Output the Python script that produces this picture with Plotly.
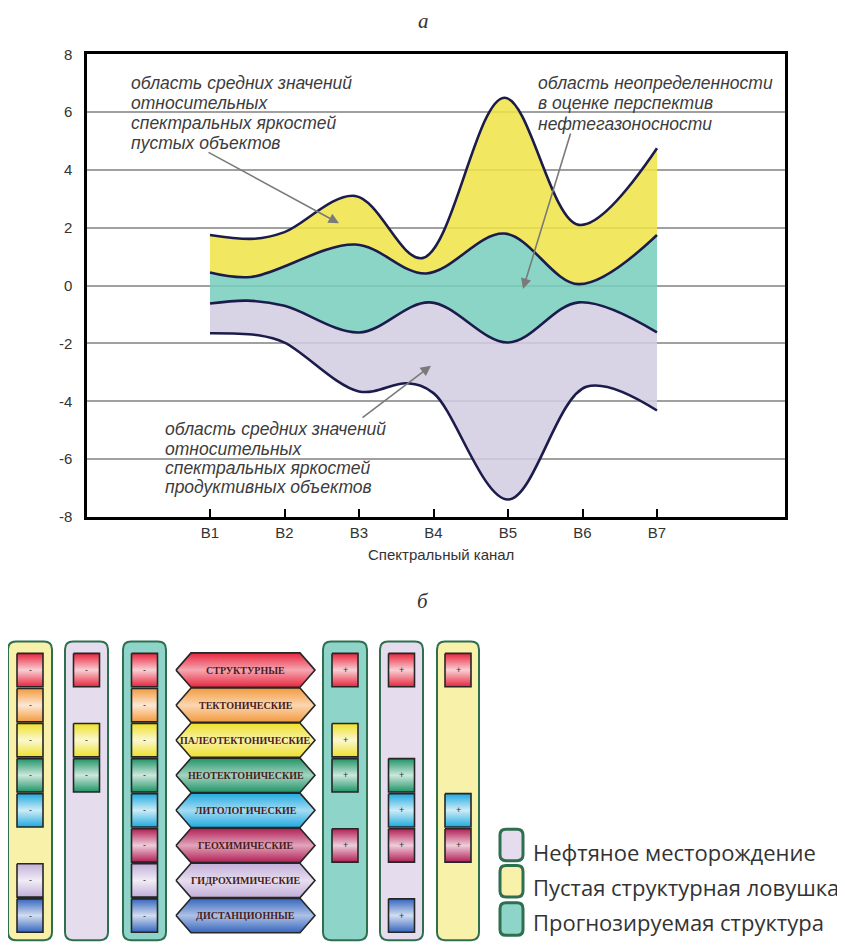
import plotly.graph_objects as go

# ---------------- chart (а) data ----------------
channels = ['B1', 'B2', 'B3', 'B4', 'B5', 'B6', 'B7']
channel_pos = [1, 2, 3, 4, 5, 6, 7]
y_ticks = [-8, -6, -4, -2, 0, 2, 4, 6, 8]
y_tick_labels = ['-8', '-6', '-4', '-2', '0', '2', '4', '6', '8']

# upper bound of empty-object area
empty_top_x = [1, 1.6, 2, 2.95, 3.85, 4.95, 5.95, 7]
empty_top_y = [1.75, 1.62, 1.85, 3.1, 0.95, 6.5, 2.1, 4.75]
# upper bound of productive-object area
prod_top_x = [1, 1.55, 2.95, 3.9, 4.95, 5.95, 7]
prod_top_y = [0.45, 0.3, 1.42, 0.42, 1.8, 0.05, 1.75]
# lower bound of empty-object area
empty_bot_x = [1, 1.5, 2, 3, 3.95, 5, 5.95, 7]
empty_bot_y = [-0.62, -0.52, -0.7, -1.62, -0.58, -1.97, -0.58, -1.62]
# lower bound of productive-object area
prod_bot_x = [1, 1.65, 2, 3, 3.65, 4, 5, 6.05, 7]
prod_bot_y = [-1.65, -1.72, -1.97, -3.66, -3.38, -3.72, -7.4, -3.5, -4.32]

note_empty = ['область средних значений', 'относительных', 'спектральных яркостей', 'пустых объектов']
note_uncert = ['область неопределенности', 'в оценке перспектив', 'нефтегазоносности']
note_prod = ['область средних значений', 'относительных', 'спектральных яркостей', 'продуктивных объектов']

# ---------------- diagram (б) data ----------------
methods = ['СТРУКТУРНЫЕ', 'ТЕКТОНИЧЕСКИЕ', 'ПАЛЕОТЕКТОНИЧЕСКИЕ', 'НЕОТЕКТОНИЧЕСКИЕ',
           'ЛИТОЛОГИЧЕСКИЕ', 'ГЕОХИМИЧЕСКИЕ', 'ГИДРОХИМИЧЕСКИЕ', 'ДИСТАНЦИОННЫЕ']
method_colors = ['#e8253d', '#f39a3c', '#eee02a', '#1e9466', '#1fa9df', '#b21e55', '#c2aed8', '#3566be']
col_types = ['empty', 'oil', 'forecast', 'forecast', 'oil', 'empty']
col_signs = ['-', '-', '-', '+', '+', '+']
col_rows = [[0, 1, 2, 3, 4, 6, 7], [0, 2, 3], [0, 1, 2, 3, 4, 5, 6, 7],
            [0, 2, 3, 5], [0, 3, 4, 5, 7], [0, 4, 5]]
legend_types = ['oil', 'empty', 'forecast']
legend_labels = ['Нефтяное месторождение', 'Пустая структурная ловушка', 'Прогнозируемая структура']

# ---------------- styles ----------------
YELLOW = 'rgba(240,227,70,0.86)'
TEAL = 'rgba(120,206,190,0.86)'
LAV = 'rgba(211,204,226,0.86)'
LINE = '#1c1c4c'
type_fill = {'empty': '#f7f1aa', 'oil': '#e5ddee', 'forecast': '#8fd4c9'}
BORDER = '#2f6f50'

W, H = 845, 950
OFF = 8  # page body margin: figure origin sits at (8, 8) in the window
PL, PR, PT, PB = 87, 785, 46, 517
x_unit = (657 - 210) / 6.0
x0 = 1 - (210 - PL) / x_unit
x1 = 7 + (PR - 657) / x_unit

fig = go.Figure()

# fills
fig.add_trace(go.Scatter(x=prod_bot_x, y=prod_bot_y, mode='lines',
                         line=dict(width=0, shape='spline'), hoverinfo='skip'))
fig.add_trace(go.Scatter(x=empty_bot_x, y=empty_bot_y, mode='lines', fill='tonexty', fillcolor=LAV,
                         line=dict(width=0, shape='spline'), hoverinfo='skip'))
fig.add_trace(go.Scatter(x=prod_top_x, y=prod_top_y, mode='lines', fill='tonexty', fillcolor=TEAL,
                         line=dict(width=0, shape='spline'), hoverinfo='skip'))
fig.add_trace(go.Scatter(x=empty_top_x, y=empty_top_y, mode='lines', fill='tonexty', fillcolor=YELLOW,
                         line=dict(width=0, shape='spline'), hoverinfo='skip'))
# outlines
for xs, ys in [(empty_top_x, empty_top_y), (prod_top_x, prod_top_y),
               (empty_bot_x, empty_bot_y), (prod_bot_x, prod_bot_y)]:
    fig.add_trace(go.Scatter(x=xs, y=ys, mode='lines',
                             line=dict(width=2.6, color=LINE, shape='spline'), hoverinfo='skip'))

annotations = []
shapes = []


def ann(x, y, text, size, color='#333', family='Liberation Sans', style='normal', xanchor='left',
        yanchor='middle', align='left', weight='normal'):
    annotations.append(dict(x=x, y=y, xref='x2', yref='y2', text=text, showarrow=False,
                            xanchor=xanchor, yanchor=yanchor, align=align,
                            font=dict(size=size, color=color, family=family, style=style, weight=weight)))


# titles
ann(423, 12, 'а', 21, color='#333', family='Liberation Serif', style='italic', xanchor='center')
ann(423, 603, 'б', 21, color='#333', family='Liberation Serif', style='italic', xanchor='center')
ann(441, 555, 'Спектральный канал', 15, color='#333', xanchor='center')

NOTE_FONT = 'Liberation Sans'
for lines, nx, ny0, step in [(note_empty, 129, 75, 20.3), (note_uncert, 536, 75, 21),
                             (note_prod, 163, 428, 19.5)]:
    for i, t in enumerate(lines):
        ann(nx, ny0 + i * step, t, 17.5, color='#3c3c3c', family=NOTE_FONT, style='italic')

# arrows (head, tail in pixel coords)
for hx, hy, tx, ty in [(339, 218, 207, 145), (523, 285, 571, 125), (431, 363, 361, 417)]:
    annotations.append(dict(x=hx, y=hy, ax=tx, ay=ty, xref='x2', yref='y2', axref='x2', ayref='y2',
                            text='', showarrow=True, arrowhead=2, arrowsize=1.3, arrowwidth=1.6,
                            arrowcolor='#7a7a7a'))


def rrect(xa, ya, xb, yb, r):
    return (f'M{xa + r},{ya} L{xb - r},{ya} Q{xb},{ya} {xb},{ya + r} L{xb},{yb - r} '
            f'Q{xb},{yb} {xb - r},{yb} L{xa + r},{yb} Q{xa},{yb} {xa},{yb - r} '
            f'L{xa},{ya + r} Q{xa},{ya} {xa + r},{ya} Z')


def lighten(hexc, f):
    r, g, b = int(hexc[1:3], 16), int(hexc[3:5], 16), int(hexc[5:7], 16)
    r, g, b = [int(v + (255 - v) * f) for v in (r, g, b)]
    return f'rgb({r},{g},{b})'


# diagram geometry
ROW0, ROWSTEP = 673, 35.7
COL_X = [(8, 52), (65, 108), (123, 166), (323, 367), (380, 423), (437, 479)]
COL_TOP, COL_BOT = 644, 948
SQ_W, SQ_H = 26, 34
HEX_L, HEX_R, HEX_D, HEX_H = 176, 315, 15, 35

for (xa, xb), t in zip(COL_X, col_types):
    shapes.append(dict(type='path', path=rrect(xa, COL_TOP, xb, COL_BOT, 8), xref='x2', yref='y2',
                       fillcolor=type_fill[t], line=dict(color=BORDER, width=2), layer='below'))

for (xa, xb), sign, rows in zip(COL_X, col_signs, col_rows):
    cx = (xa + xb) / 2
    for r in rows:
        cy = ROW0 + ROWSTEP * r
        c = method_colors[r]
        sx0, sx1 = cx - SQ_W / 2, cx + SQ_W / 2
        sy0, sy1 = cy - SQ_H / 2, cy + SQ_H / 2
        fig.add_trace(go.Scatter(x=[sx0, sx1, sx1, sx0, sx0], y=[sy0, sy0, sy1, sy1, sy0],
                                 xaxis='x2', yaxis='y2', mode='lines', fill='toself',
                                 fillgradient=dict(type='vertical',
                                                   colorscale=[[0, c], [0.5, lighten(c, 0.78)], [1, c]]),
                                 line=dict(color='#262626', width=1.6), hoverinfo='skip'))
        ann(cx, cy, sign, 9, color='#333', xanchor='center')

for r, (name, c) in enumerate(zip(methods, method_colors)):
    cy = ROW0 + ROWSTEP * r
    ht = cy - HEX_H / 2
    hb = cy + HEX_H / 2
    hx = [HEX_L, HEX_L + HEX_D, HEX_R - HEX_D, HEX_R, HEX_R - HEX_D, HEX_L + HEX_D, HEX_L]
    hy = [cy, ht, ht, cy, hb, hb, cy]
    fig.add_trace(go.Scatter(x=hx, y=hy, xaxis='x2', yaxis='y2', mode='lines', fill='toself',
                             fillgradient=dict(type='vertical',
                                               colorscale=[[0, c], [0.5, lighten(c, 0.6)], [1, c]]),
                             line=dict(color='#262626', width=1.6), hoverinfo='skip'))
    ann((HEX_L + HEX_R) / 2, cy, name, 10, color='#4a1c1c', family='Liberation Serif',
        xanchor='center', weight='bold')

# legend
LEG_Y = [(835, 867), (872, 904), (910, 943)]
LEG_TEXT_Y = [858, 894, 929]
for (ya, yb), t, lab, ty in zip(LEG_Y, legend_types, legend_labels, LEG_TEXT_Y):
    shapes.append(dict(type='path', path=rrect(500, ya, 523, yb, 6), xref='x2', yref='y2',
                       fillcolor=type_fill[t], line=dict(color=BORDER, width=3), layer='below'))
    ann(531, ty, lab, 22, color='#333', family='Open Sans')

fig.update_layout(
    width=W, height=H, margin=dict(l=0, r=0, t=0, b=0),
    paper_bgcolor='white', plot_bgcolor='rgba(0,0,0,0)',
    showlegend=False, hovermode=False,
    xaxis=dict(domain=[(PL - OFF) / W, (PR - OFF) / W], range=[x0, x1], tickvals=channel_pos,
               ticktext=channels, ticks='inside', ticklen=8, tickwidth=2, tickcolor='black',
               showline=True, linecolor='black', linewidth=2.5, mirror=True,
               showgrid=False, zeroline=False, tickfont=dict(size=15, color='#333', family='Liberation Sans')),
    yaxis=dict(domain=[1 - (PB - OFF) / H, 1 - (PT - OFF) / H], range=[-8, 8], tickvals=y_ticks,
               ticktext=y_tick_labels,
               showline=True, linecolor='black', linewidth=2.5, mirror=True,
               showgrid=True, gridcolor='#a0a0a0', gridwidth=1.5, zeroline=False, ticks='',
               ticklabelstandoff=9, tickfont=dict(size=15, color='#333', family='Liberation Sans')),
    xaxis2=dict(domain=[0, 1], range=[OFF, W + OFF], visible=False, anchor='y2', fixedrange=True),
    yaxis2=dict(domain=[0, 1], range=[H + OFF, OFF], visible=False, anchor='x2', fixedrange=True),
    annotations=annotations, shapes=shapes,
)

fig.write_html('out.html')
